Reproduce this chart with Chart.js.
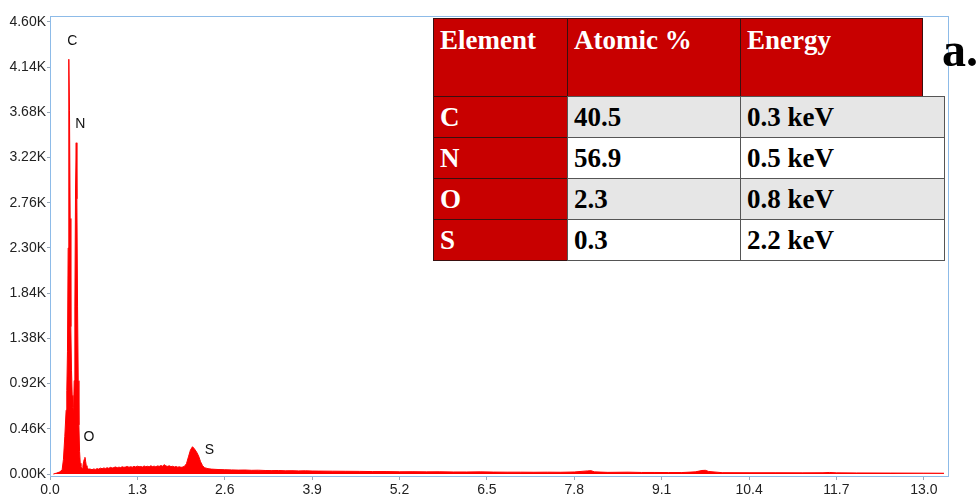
<!DOCTYPE html>
<html>
<head>
<meta charset="utf-8">
<script src="https://cdn.jsdelivr.net/npm/chart.js"></script>
<style>
  body { margin: 0; background: #fff; }
  #wrap { position: relative; width: 976px; height: 503px; overflow: hidden; }
  #tbl div { position: absolute; box-sizing: border-box; font-family: "Liberation Serif", "Times New Roman", serif; font-weight: bold; font-size: 27px; white-space: nowrap; }
  #tag { position: absolute; left: 942px; top: 22px; font-family: "Liberation Serif", serif; font-weight: bold; font-size: 48px; color: #000; }
</style>
</head>
<body>
<div id="wrap">
  <canvas id="eds" width="976" height="503"></canvas>
  <div id="tbl"></div>
  <div id="tag">a.</div>
</div>
<script>
// spectrum, energy in keV and counts
const energy = [0.05, 0.10, 0.14, 0.18, 0.20, 0.22, 0.24, 0.25, 0.26, 0.27, 0.28, 0.29, 0.30, 0.31, 0.32, 0.33, 0.34, 0.35,
  0.36, 0.37, 0.38, 0.39, 0.40, 0.41, 0.42, 0.43, 0.44, 0.45, 0.46, 0.47, 0.48, 0.49, 0.50, 0.51, 0.52, 0.53, 0.54, 0.55, 0.57,
  0.60, 0.625, 0.65, 0.675, 0.70, 0.725, 0.75, 0.775, 0.80, 0.825, 0.85, 0.875, 0.90, 0.925, 0.95, 0.975, 1.00, 1.025, 1.05,
  1.075, 1.10, 1.125, 1.15, 1.175, 1.20, 1.225, 1.25, 1.275, 1.30, 1.325, 1.35, 1.375, 1.40, 1.425, 1.45, 1.475, 1.50, 1.525,
  1.55, 1.575, 1.60, 1.625, 1.65, 1.675, 1.70, 1.725, 1.75, 1.775, 1.80, 1.825, 1.85, 1.875, 1.90, 1.925, 1.95, 1.975, 2.00,
  2.03, 2.06, 2.09, 2.12, 2.15, 2.18, 2.21, 2.24, 2.27, 2.30, 2.35, 2.40, 2.50,
  2.60, 2.70, 2.80, 2.90, 3.00, 3.10, 3.20, 3.30, 3.40, 3.50, 3.60, 3.70, 3.80, 3.90, 4.00, 4.20, 4.40, 4.60, 4.80, 5.00, 5.20,
  5.40, 5.60, 5.80, 6.00, 6.20, 6.40, 6.60, 6.80, 7.00, 7.20, 7.40, 7.60, 7.80, 8.00, 8.05, 8.10, 8.30, 8.60, 8.80, 9.00, 9.20,
  9.40, 9.60, 9.70, 9.75, 9.80, 10.0, 10.4, 10.8, 11.2, 11.5, 11.6, 11.7, 12.0, 12.5, 13.0, 13.3];
const counts = [0, 10, 20, 40, 150, 380, 650, 850, 1250, 2300, 4220, 3700, 2600, 1500, 1050, 800, 680, 620,
  950, 1700, 2900, 3370, 2800, 1700, 950, 500, 230, 110, 75, 62, 58, 85, 125, 150, 170, 130, 85, 60, 52,
  50, 44, 52, 47, 55, 50, 60, 54, 62, 57, 64, 58, 68, 61, 66, 72, 64, 70, 66,
  74, 68, 72, 77, 69, 75, 70, 78, 72, 80, 74, 77, 71, 82, 75, 79, 73, 84, 76,
  80, 74, 83, 78, 86, 80, 95, 82, 78, 84, 75, 79, 72, 76, 70, 74, 68, 72, 78,
  105, 175, 245, 278, 255, 225, 185, 125, 85, 64, 55, 50, 46,
  44, 42, 40, 41, 38, 39, 36, 35, 36, 33, 34, 32, 33, 31, 30, 29, 28, 27, 25, 25, 23,
  24, 22, 23, 21, 21, 22, 20, 19, 19, 18, 19, 18, 21, 32, 34, 22, 17, 19, 16, 16, 15,
  15, 22, 36, 38, 26, 14, 13, 13, 12, 13, 16, 12, 11, 10, 9, 8];

const xTicks = [0.0, 1.3, 2.6, 3.9, 5.2, 6.5, 7.8, 9.1, 10.4, 11.7, 13.0];
const yTicks = [0, 460, 920, 1380, 1840, 2300, 2760, 3220, 3680, 4140, 4600];

// peak labels: element, energy, height where the letter sits
const peakNames = ['C', 'N', 'O', 'S'];
const peakX = [0.33, 0.45, 0.58, 2.37];
const peakY = [4400, 3560, 380, 245];

// inset table
const tblHead = ['Element', 'Atomic %', 'Energy'];
const tblElem = ['C', 'N', 'O', 'S'];
const tblAtomic = ['40.5', '56.9', '2.3', '0.3'];
const tblEnergy = ['0.3 keV', '0.5 keV', '0.8 keV', '2.2 keV'];

var points = energy.map(function (e, i) { return { x: e, y: counts[i] }; });

var axisBlue = '#8dbbe8';
var tickFont = { family: "'Liberation Sans', Arial, sans-serif", size: 14 };

var frame = {
  id: 'frame',
  afterDraw: function (chart) {
    var a = chart.chartArea, ctx = chart.ctx;
    ctx.save();
    ctx.strokeStyle = axisBlue;
    ctx.lineWidth = 1;
    ctx.strokeRect(a.left + 0.5, a.top + 0.5, a.right - a.left, a.bottom - a.top);
    ctx.restore();
  }
};

var peakLabels = {
  id: 'peakLabels',
  afterDatasetsDraw: function (chart) {
    var ctx = chart.ctx, xs = chart.scales.x, ys = chart.scales.y;
    ctx.save();
    ctx.fillStyle = '#111';
    ctx.font = "14px 'Liberation Sans', Arial, sans-serif";
    ctx.textAlign = 'center';
    ctx.textBaseline = 'middle';
    peakNames.forEach(function (n, i) {
      ctx.fillText(n, xs.getPixelForValue(peakX[i]), ys.getPixelForValue(peakY[i]));
    });
    ctx.restore();
  }
};

var hchart = new Chart(document.getElementById('eds').getContext('2d'), {
  type: 'line',
  data: {
    datasets: [{
      data: points,
      borderColor: '#ff0000',
      backgroundColor: '#ff0000',
      borderWidth: 1,
      pointRadius: 0,
      fill: 'origin',
      tension: 0
    }]
  },
  options: {
    responsive: false,
    animation: false,
    layout: { padding: { top: 16, right: 28, left: 0, bottom: 0 } },
    plugins: { legend: { display: false }, tooltip: { enabled: false } },
    scales: {
      x: {
        type: 'linear',
        min: 0,
        max: 13.36,
        afterBuildTicks: function (s) { s.ticks = xTicks.map(function (v) { return { value: v }; }); },
        afterFit: function (s) { s.height = 27; },
        ticks: {
          autoSkip: false, maxRotation: 0, padding: 2, color: '#222', font: tickFont,
          callback: function (v) { return Number(v).toFixed(1); }
        },
        grid: { drawOnChartArea: false, tickLength: 4, color: '#9aa9b8' },
        border: { color: axisBlue }
      },
      y: {
        min: -20,
        max: 4660,
        afterBuildTicks: function (s) { s.ticks = yTicks.map(function (v) { return { value: v }; }); },
        afterFit: function (s) { s.width = 50; },
        ticks: {
          padding: 1, color: '#222', font: tickFont,
          callback: function (v) { return (v / 1000).toFixed(2) + 'K'; }
        },
        grid: { drawOnChartArea: false, tickLength: 3, color: '#9aa9b8' },
        border: { color: axisBlue }
      }
    }
  },
  plugins: [frame, peakLabels]
});

// build the inset table
var tbl = document.getElementById('tbl');
var colX = [433, 567, 740];
var headW = [134, 173, 182];
var bodyW = [134, 173, 204];
var headTop = 18, headH = 78, rowH = 41;

function cell(x, y, w, h, txt, bg, fg, border, padTop) {
  var d = document.createElement('div');
  d.style.left = x + 'px';
  d.style.top = y + 'px';
  d.style.width = w + 'px';
  d.style.height = h + 'px';
  d.style.background = bg;
  d.style.color = fg;
  d.style.border = '1px solid ' + border;
  d.style.paddingLeft = '6px';
  if (padTop != null) { d.style.paddingTop = padTop + 'px'; d.style.lineHeight = '30px'; }
  else { d.style.lineHeight = (h - 2) + 'px'; }
  d.textContent = txt;
  tbl.appendChild(d);
}

tblHead.forEach(function (t, j) {
  cell(colX[j], headTop, headW[j] + 1, headH + 1, t, '#c80000', '#fff', '#3a1010', 6);
});
tblElem.forEach(function (el, i) {
  var y = headTop + headH + i * rowH;
  var bg = (i % 2 === 0) ? '#e6e6e6' : '#ffffff';
  cell(colX[0], y, bodyW[0] + 1, rowH + 1, el, '#c80000', '#fff', '#3a1010');
  cell(colX[1], y, bodyW[1] + 1, rowH + 1, tblAtomic[i], bg, '#000', '#555');
  cell(colX[2], y, bodyW[2] + 1, rowH + 1, tblEnergy[i], bg, '#000', '#555');
});
</script>
</body>
</html>
